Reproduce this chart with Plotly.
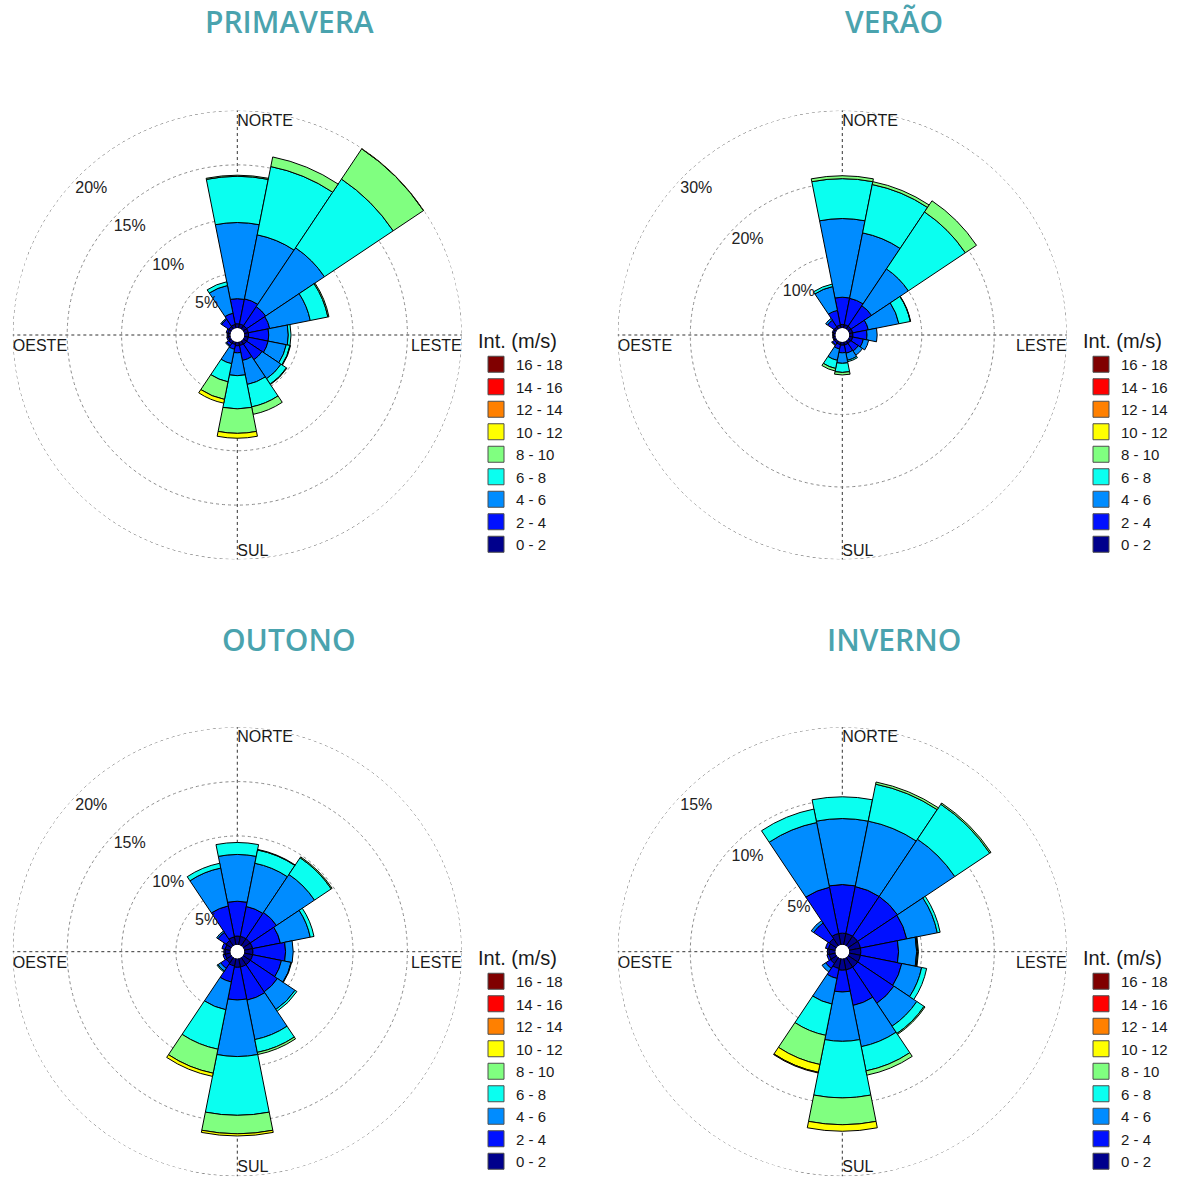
import plotly.graph_objects as go

W, H = 1179, 1178

# 16 compass sectors, clockwise from north (degrees)
DIRECTIONS = [0, 22.5, 45, 67.5, 90, 112.5, 135, 157.5,
              180, 202.5, 225, 247.5, 270, 292.5, 315, 337.5]

SPEED_CLASSES = ["0 - 2", "2 - 4", "4 - 6", "6 - 8", "8 - 10",
                 "10 - 12", "12 - 14", "14 - 16", "16 - 18"]
CLASS_COLORS = ["#00008C", "#0010FF", "#008CFF", "#0AFFF0", "#80FF80",
                "#FFFF00", "#FF8000", "#FF0000", "#800000"]

# Frequency (%) per speed class (rows) and direction (columns)
PRIMAVERA = [
    [0.4, 0.4, 0.4, 0.4, 0.4, 0.4, 0.4, 0.35, 0.35, 0.25, 0.3, 0.2, 0.2, 0.25, 0.3, 0.35],
    [2.3, 2.35, 2.1, 2.0, 1.85, 1.85, 1.7, 1.4, 0.65, 0.45, 0.25, 0.15, 0.1, 0.15, 0.8, 1.05],
    [7.0, 6.0, 6.5, 3.8, 1.8, 1.7, 2.1, 2.25, 2.1, 1.35, 0.1, 0, 0, 0, 0.1, 2.6],
    [4.25, 6.4, 7.6, 1.65, 0.25, 0.35, 0.6, 2.1, 3.05, 1.7, 0, 0, 0, 0, 0, 0.35],
    [0.1, 0.9, 3.35, 0.1, 0, 0.05, 0.05, 0.7, 2.25, 1.65, 0, 0, 0, 0, 0, 0],
    [0, 0, 0.05, 0, 0, 0, 0, 0, 0.45, 0.35, 0, 0, 0, 0, 0, 0],
    [0] * 16,
    [0] * 16,
    [0] * 16,
]

VERAO = [
    [0.5, 0.5, 0.5, 0.5, 0.5, 0.5, 0.45, 0.45, 0.45, 0.4, 0.35, 0.3, 0.3, 0.3, 0.4, 0.45],
    [3.75, 3.7, 3.4, 2.2, 1.95, 1.5, 1.25, 1.15, 1.05, 0.6, 0.35, 0.1, 0.05, 0.15, 1.1, 2.05],
    [10.85, 9.2, 6.1, 4.3, 1.4, 0.75, 0.7, 1.0, 1.45, 1.6, 0.1, 0, 0, 0, 0.3, 3.35],
    [5.5, 6.8, 9.45, 1.6, 0, 0, 0, 0.2, 1.25, 1.15, 0, 0, 0, 0, 0, 0.35],
    [0.4, 0.4, 1.85, 0.05, 0, 0, 0, 0, 0.35, 0.35, 0, 0, 0, 0, 0, 0],
    [0] * 16,
    [0] * 16,
    [0] * 16,
    [0] * 16,
]

OUTONO = [
    [0.8, 0.8, 0.8, 0.8, 0.8, 0.8, 0.8, 0.8, 0.8, 0.7, 0.6, 0.5, 0.5, 0.5, 0.6, 0.75],
    [3.2, 2.8, 2.9, 2.6, 3.0, 2.7, 3.0, 3.1, 3.0, 1.5, 0.6, 0.2, 0.1, 0.3, 0.9, 2.9],
    [4.3, 4.05, 4.2, 2.8, 0.7, 0.9, 1.95, 3.7, 5.2, 2.6, 0.3, 0, 0, 0, 0.15, 3.55],
    [1.1, 1.25, 1.85, 0.35, 0, 0.05, 0.2, 1.2, 5.4, 3.7, 0.1, 0, 0, 0, 0, 0.45],
    [0, 0.05, 0.1, 0, 0, 0, 0, 0.2, 1.7, 2.25, 0, 0, 0, 0, 0, 0],
    [0, 0, 0, 0, 0, 0, 0, 0, 0.2, 0.3, 0, 0, 0, 0, 0, 0],
    [0] * 16,
    [0] * 16,
    [0] * 16,
]

INVERNO = [
    [0.8, 0.8, 0.8, 0.8, 0.8, 0.8, 0.8, 0.8, 0.8, 0.7, 0.5, 0.45, 0.45, 0.5, 0.6, 0.8],
    [3.35, 3.3, 3.3, 3.25, 2.6, 2.9, 3.0, 2.5, 1.5, 0.7, 0.4, 0.15, 0.1, 0.2, 1.3, 3.25],
    [4.55, 4.6, 4.75, 2.15, 1.25, 1.4, 1.9, 2.9, 3.4, 1.8, 0.3, 0, 0, 0, 0.2, 4.55],
    [1.5, 2.6, 2.9, 0.2, 0.07, 0.35, 0.6, 1.7, 3.9, 2.2, 0, 0, 0, 0, 0, 0.95],
    [0, 0.15, 0.1, 0, 0.05, 0, 0.08, 0.3, 1.85, 2.05, 0, 0, 0, 0, 0, 0],
    [0, 0, 0, 0, 0, 0, 0, 0, 0.45, 0.55, 0, 0, 0, 0, 0, 0],
    [0, 0, 0, 0, 0, 0, 0, 0, 0, 0.05, 0, 0, 0, 0, 0, 0],
    [0] * 16,
    [0] * 16,
]

SEASONS = ["PRIMAVERA", "VERÃO", "OUTONO", "INVERNO"]
SEASON_DATA = [PRIMAVERA, VERAO, OUTONO, INVERNO]
RADIAL_MAX = [20, 30, 20, 15]
RADIAL_TICKS = [[5, 10, 15, 20], [10, 20, 30], [5, 10, 15, 20], [5, 10, 15]]

COMPASS_TEXT = ["NORTE", "LESTE", "SUL", "OESTE"]
COMPASS_THETA = [0, 90, 180, 270]
COMPASS_POS = ["bottom right", "bottom left", "top right", "bottom right"]

# Panel geometry in pixels: rose centres and radius
CENTERS = [(237.3, 335.0), (842.3, 335.0), (237.3, 951.7), (842.3, 951.7)]
RADIUS = 224.5
HOLE = 0.031
TITLE_Y = [22, 22, 639, 639]
LEGEND_XY = [(476, 322), (1081, 322), (476, 939), (1081, 939)]

AXIS_FONT = "Liberation Sans, Arial, sans-serif"
TEXT_COLOR = "#1A1A1A"
GRID_COLOR = "#8C8C8C"
TITLE_COLOR = "#4AA3AE"

# full turn used to trace the dotted outer ring
RING_THETA = list(range(0, 361))

fig = go.Figure()
layout_extra = {}
annotations = []

for i, (season, data) in enumerate(zip(SEASONS, SEASON_DATA)):
    polar_id = "polar" if i == 0 else f"polar{i + 1}"
    legend_id = "legend" if i == 0 else f"legend{i + 1}"
    rmax = RADIAL_MAX[i]
    px_per_unit = RADIUS * (1 - HOLE) / rmax

    for k, cls in enumerate(SPEED_CLASSES):
        fig.add_trace(go.Barpolar(
            r=data[k], theta=DIRECTIONS, width=[22.5] * 16,
            name=cls, subplot=polar_id, legendgroup=f"{polar_id}-{cls}",
            showlegend=False,
            marker=dict(color=CLASS_COLORS[k], line=dict(color="#000000", width=1)),
            hoverinfo="skip",
        ))
        # legend swatch for the class (larger square than the default bar icon)
        fig.add_trace(go.Scatterpolar(
            r=[None], theta=[None], mode="markers", name=cls,
            subplot=polar_id, legend=legend_id, legendgroup=f"{polar_id}-{cls}",
            marker=dict(symbol="square", size=16, color=CLASS_COLORS[k],
                        line=dict(color="#4D4D4D", width=1)),
            hoverinfo="skip",
        ))

    ticks = RADIAL_TICKS[i]
    # dotted outer ring at the top tick value
    fig.add_trace(go.Scatterpolar(
        r=[rmax] * len(RING_THETA), theta=RING_THETA, mode="lines",
        subplot=polar_id, showlegend=False, hoverinfo="skip",
        line=dict(color="#666666", width=1, dash="dot"),
    ))

    # percentage labels along the north-west diagonal, just inside each ring
    inset = 18 / px_per_unit
    fig.add_trace(go.Scatterpolar(
        r=[t - inset for t in ticks], theta=[315] * len(ticks),
        text=[f"{t}%" for t in ticks], mode="text", subplot=polar_id,
        textfont=dict(family=AXIS_FONT, size=16, color="#222222"),
        showlegend=False, hoverinfo="skip",
    ))
    # cardinal direction labels on the outer ring
    drop = 3 / px_per_unit
    fig.add_trace(go.Scatterpolar(
        r=[rmax - drop, rmax, rmax, rmax], theta=[0, 91, 180, 269],
        text=COMPASS_TEXT, textposition=COMPASS_POS, mode="text",
        subplot=polar_id,
        textfont=dict(family=AXIS_FONT, size=16, color=TEXT_COLOR),
        showlegend=False, hoverinfo="skip",
    ))

    cx, cy = CENTERS[i]
    layout_extra[polar_id] = dict(
        domain=dict(x=[(cx - RADIUS) / W, (cx + RADIUS) / W],
                    y=[1 - (cy + RADIUS) / H, 1 - (cy - RADIUS) / H]),
        hole=HOLE,
        bgcolor="white",
        barmode="stack",
        bargap=0,
        radialaxis=dict(range=[0, rmax], tickvals=ticks, showticklabels=False,
                        ticks="", showline=False, gridcolor=GRID_COLOR,
                        griddash="dot", gridwidth=1),
        angularaxis=dict(rotation=90, direction="clockwise",
                         tickvals=COMPASS_THETA, showticklabels=False, ticks="",
                         showline=False,
                         gridcolor="#333333", griddash="dot", gridwidth=1),
    )

    lx, ly = LEGEND_XY[i]
    layout_extra[legend_id] = dict(
        x=lx / W, y=1 - ly / H, xanchor="left", yanchor="top",
        traceorder="reversed", bgcolor="rgba(0,0,0,0)", itemsizing="trace",
        title=dict(text="Int. (m/s)", font=dict(family=AXIS_FONT, size=20, color=TEXT_COLOR)),
        font=dict(family=AXIS_FONT, size=15, color=TEXT_COLOR),
        itemclick=False, itemdoubleclick=False,
    )

    annotations.append(dict(
        text=season, x=(cx + 52) / W, y=1 - TITLE_Y[i] / H,
        xref="paper", yref="paper", xanchor="center", yanchor="middle",
        showarrow=False,
        font=dict(family="Open Sans", size=30, color=TITLE_COLOR, weight=600),
    ))

fig.update_layout(
    width=W, height=H,
    margin=dict(l=0, r=0, t=0, b=0),
    paper_bgcolor="white",
    plot_bgcolor="white",
    annotations=annotations,
    **layout_extra,
)

fig.write_html("out.html")
